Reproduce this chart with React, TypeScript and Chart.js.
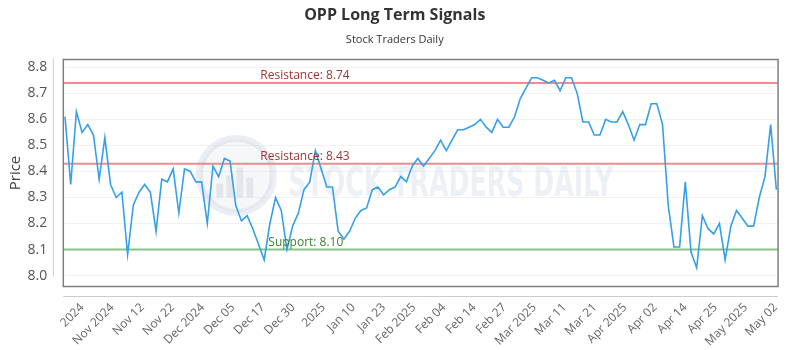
import React, { useEffect, useRef } from "react";
import { Chart, registerables } from "chart.js";

Chart.register(...registerables);

// ---- data ----
const prices: number[] = [
  8.61, 8.35, 8.63, 8.55, 8.58, 8.54, 8.37, 8.53, 8.35, 8.30,
  8.32, 8.08, 8.27, 8.32, 8.35, 8.32, 8.17, 8.37, 8.36, 8.41,
  8.24, 8.41, 8.40, 8.36, 8.36, 8.20, 8.42, 8.38, 8.45, 8.44,
  8.27, 8.21, 8.23, 8.18, 8.12, 8.06, 8.20, 8.30, 8.25, 8.10,
  8.19, 8.24, 8.33, 8.36, 8.48, 8.41, 8.34, 8.34, 8.17, 8.14,
  8.17, 8.22, 8.25, 8.26, 8.33, 8.34, 8.31, 8.33, 8.34, 8.38,
  8.36, 8.42, 8.45, 8.42, 8.45, 8.48, 8.52, 8.48, 8.52, 8.56,
  8.56, 8.57, 8.58, 8.60, 8.57, 8.55, 8.60, 8.57, 8.57, 8.61,
  8.68, 8.72, 8.76, 8.76, 8.75, 8.74, 8.75, 8.71, 8.76, 8.76,
  8.70, 8.59, 8.59, 8.54, 8.54, 8.60, 8.59, 8.59, 8.63, 8.58,
  8.52, 8.58, 8.58, 8.66, 8.66, 8.58, 8.27, 8.11, 8.11, 8.36,
  8.09, 8.03, 8.23, 8.18, 8.16, 8.20, 8.06, 8.19, 8.25, 8.22,
  8.19, 8.19, 8.30, 8.38, 8.58, 8.33,
];

const xTickLabels: string[] = [
  "2024", "Nov 2024", "Nov 12", "Nov 22", "Dec 2024", "Dec 05", "Dec 17", "Dec 30",
  "2025", "Jan 10", "Jan 23", "Feb 2025", "Feb 04", "Feb 14", "Feb 27", "Mar 2025",
  "Mar 11", "Mar 21", "Apr 2025", "Apr 02", "Apr 14", "Apr 25", "May 2025", "May 02",
];
const xTickFirst = 3.0;
const xTickStep = 5.3;

const yTicks: number[] = [8.0, 8.1, 8.2, 8.3, 8.4, 8.5, 8.6, 8.7, 8.8];

const levelValues: number[] = [8.74, 8.43, 8.1];
const levelNames: string[] = ["Resistance", "Resistance", "Support"];

const TITLE = "OPP Long Term Signals";
const SUBTITLE = "Stock Traders Daily";
const FONT = "'Open Sans', sans-serif";

// ---- plugins ----
const watermarkPlugin = {
  id: "watermark",
  beforeDatasetsDraw(chart: any) {
    const { ctx, chartArea } = chart;
    ctx.save();
    ctx.beginPath();
    ctx.rect(chartArea.left, chartArea.top, chartArea.right - chartArea.left, chartArea.bottom - chartArea.top);
    ctx.clip();
    const cx = chartArea.left + 173;
    const cy = chartArea.top + 116;
    const r = 37;
    ctx.fillStyle = "rgba(225,230,236,0.3)";
    ctx.beginPath();
    ctx.arc(cx, cy, r, 0, Math.PI * 2);
    ctx.fill();
    ctx.strokeStyle = "rgba(205,213,222,0.4)";
    ctx.lineWidth = 7;
    ctx.beginPath();
    ctx.arc(cx, cy, r, 0, Math.PI * 2);
    ctx.stroke();
    ctx.fillStyle = "rgba(200,208,218,0.4)";
    const bars = [14, 22, 30, 20];
    bars.forEach((h, i) => {
      ctx.fillRect(cx - 20 + i * 10, cy + 22 - h, 7, h);
    });
    ctx.font = `bold 41px 'DejaVu Sans Condensed', sans-serif`;
    ctx.textBaseline = "alphabetic";
    ctx.textAlign = "left";
    const txt = "STOCK TRADERS DAILY";
    const w = ctx.measureText(txt).width;
    const targetW = 325;
    ctx.translate(chartArea.left + 225, chartArea.top + 136);
    ctx.scale(targetW / w, 1);
    ctx.fillStyle = "rgba(215,222,230,0.45)";
    ctx.fillText(txt, 0, 0);
    ctx.restore();
  },
};

const levelsPlugin = {
  id: "levels",
  beforeDatasetsDraw(chart: any) {
    const { ctx, chartArea, scales } = chart;
    ctx.save();
    levelValues.forEach((v, i) => {
      const y = scales.y.getPixelForValue(v);
      ctx.strokeStyle = levelNames[i] === "Support" ? "rgba(120,190,120,0.9)" : "rgba(236,120,120,0.85)";
      ctx.lineWidth = 2;
      ctx.beginPath();
      ctx.moveTo(chartArea.left, y);
      ctx.lineTo(chartArea.right, y);
      ctx.stroke();
    });
    ctx.restore();
  },
  afterDatasetsDraw(chart: any) {
    const { ctx, chartArea, scales } = chart;
    ctx.save();
    ctx.font = `12px ${FONT}`;
    ctx.textBaseline = "alphabetic";
    ctx.textAlign = "left";
    levelValues.forEach((v, i) => {
      const y = scales.y.getPixelForValue(v);
      const support = levelNames[i] === "Support";
      ctx.fillStyle = support ? "#3e7d32" : "#9c3434";
      const x = chartArea.left + (support ? 205 : 197);
      ctx.fillText(`${levelNames[i]}: ${v.toFixed(2)}`, x, y - 4);
    });
    ctx.restore();
  },
};

const framePlugin = {
  id: "frame",
  afterDraw(chart: any) {
    const { ctx, chartArea } = chart;
    ctx.save();
    ctx.strokeStyle = "#cccccc";
    ctx.lineWidth = 1;
    ctx.beginPath();
    ctx.moveTo(chartArea.left - 10, chartArea.top - 1);
    ctx.lineTo(chartArea.left - 10, chartArea.bottom - 10);
    ctx.stroke();
    ctx.beginPath();
    ctx.moveTo(chartArea.left, chartArea.bottom + 10);
    ctx.lineTo(chartArea.right, chartArea.bottom + 10);
    ctx.stroke();
    ctx.strokeStyle = "#808080";
    ctx.lineWidth = 1.5;
    ctx.strokeRect(chartArea.left, chartArea.top, chartArea.right - chartArea.left, chartArea.bottom - chartArea.top);
    ctx.restore();
  },
};

export default function App() {
  const canvasRef = useRef<HTMLCanvasElement | null>(null);

  useEffect(() => {
    if (!canvasRef.current) return;
    const chart = new Chart(canvasRef.current, {
      type: "line",
      data: {
        datasets: [
          {
            label: "Price",
            data: prices.map((p, i) => ({ x: i, y: p })),
            borderColor: "#35a0e8",
            borderWidth: 1.6,
            pointRadius: 0,
            tension: 0,
            fill: false,
          },
        ],
      },
      options: {
        animation: false,
        responsive: false,
        devicePixelRatio: 1,
        layout: { padding: { left: 0, right: 10.5, top: 0, bottom: 0 } },
        plugins: {
          legend: { display: false },
          tooltip: { enabled: false },
          title: {
            display: true,
            text: TITLE,
            color: "#333333",
            font: { family: FONT, size: 16, weight: "bold", lineHeight: 1.2 },
            padding: { top: 5.4, bottom: 8.8 },
          },
          subtitle: {
            display: true,
            text: SUBTITLE,
            color: "#333333",
            font: { family: FONT, size: 11, lineHeight: 1.2 },
            padding: { top: 0, bottom: 12.9 },
          },
        },
        scales: {
          x: {
            type: "linear",
            min: -0.3,
            max: prices.length - 1 + 0.3,
            afterBuildTicks: (scale: any) => {
              scale.ticks = xTickLabels.map((_, i) => ({ value: xTickFirst + i * xTickStep }));
            },
            afterFit: (scale: any) => {
              scale.height = 63.5;
            },
            grid: { display: false, drawTicks: false },
            border: { display: false },
            ticks: {
              autoSkip: false,
              maxRotation: 45,
              minRotation: 45,
              padding: 14,
              color: "#666666",
              font: { family: FONT, size: 12 },
              callback: (_v: any, i: number) => xTickLabels[i],
            },
          },
          y: {
            type: "linear",
            min: 7.958,
            max: 8.83,
            afterBuildTicks: (scale: any) => {
              scale.ticks = yTicks.map((v) => ({ value: v }));
            },
            afterFit: (scale: any) => {
              scale.width = 63.3;
            },
            grid: { color: "#f1f1f1", drawTicks: false },
            border: { display: false },
            ticks: {
              padding: 16,
              color: "#555555",
              font: { family: FONT, size: 14 },
              callback: (v: any) => Number(v).toFixed(1),
            },
            title: {
              display: true,
              text: "Price",
              color: "#444444",
              font: { family: FONT, size: 15 },
              padding: { top: 7, bottom: 0 },
            },
          },
        },
      } as any,
      plugins: [watermarkPlugin, levelsPlugin, framePlugin],
    });
    return () => chart.destroy();
  }, []);

  return (
    <div style={{ position: "fixed", left: 0, top: 0, width: 800, height: 350, background: "#ffffff" }}>
      <canvas ref={canvasRef} width={800} height={350} style={{ width: 800, height: 350 }} />
    </div>
  );
}
